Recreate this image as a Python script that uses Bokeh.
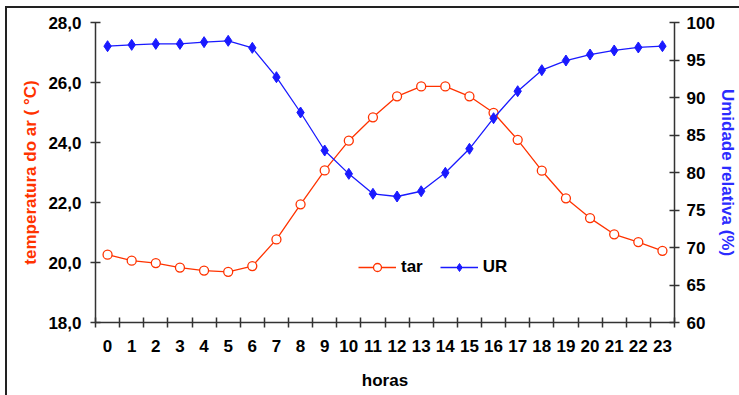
from bokeh.plotting import figure
from bokeh.models import Range1d, LinearAxis, FixedTicker, Legend, LegendItem
from bokeh.embed import file_html
from bokeh.resources import INLINE

hours = list(range(24))
tar = [20.26, 20.06, 19.98, 19.83, 19.73, 19.69, 19.88, 20.77, 21.94, 23.07,
       24.06, 24.84, 25.54, 25.87, 25.87, 25.54, 24.99, 24.09, 23.06, 22.14,
       21.48, 20.94, 20.68, 20.39]
ur = [96.84, 97.02, 97.15, 97.15, 97.38, 97.56, 96.62, 92.71, 88.0, 82.93,
      79.82, 77.16, 76.8, 77.5, 79.96, 83.16, 87.24, 90.84, 93.64, 94.93,
      95.73, 96.27, 96.67, 96.84]
temp_ticks = [18, 20, 22, 24, 26, 28]
temp_labels = ["18,0", "20,0", "22,0", "24,0", "26,0", "28,0"]
ur_ticks = [60, 65, 70, 75, 80, 85, 90, 95, 100]

RED = "#FF3300"
BLUE = "#1A1AFF"
FONT = "Liberation Sans"
FS = "17px"

p = figure(width=739, height=395, output_backend="svg", toolbar_location=None,
           x_range=Range1d(-0.5, 23.5), y_range=Range1d(18, 28),
           min_border_left=95, min_border_right=57, min_border_top=22,
           min_border_bottom=73, x_axis_location=None, y_axis_location=None)
p.background_fill_color = None
p.border_fill_color = None
p.outline_line_color = None
p.grid.visible = False
p.extra_y_ranges = {"ur": Range1d(60, 100)}
p.styles = {
    "background-color": "white",
    "background-image": "linear-gradient(#222, #222), linear-gradient(#222, #222)",
    "background-position": "5px 6px, 5px 6px",
    "background-size": "2px 100%, 100% 2px",
    "background-repeat": "no-repeat",
}

def style_axis(ax):
    ax.axis_line_color = "#333333"
    ax.axis_line_width = 1.5
    ax.major_tick_line_color = "#333333"
    ax.major_tick_line_width = 1.5
    ax.major_tick_in = 5
    ax.major_tick_out = 5
    ax.minor_tick_line_color = None
    ax.major_label_text_font = FONT
    ax.major_label_text_font_style = "bold"
    ax.major_label_text_font_size = FS
    ax.major_label_text_color = "black"
    ax.axis_label_text_font = FONT
    ax.axis_label_text_font_style = "bold"
    ax.axis_label_text_font_size = FS
    ax.axis_label_text_color = "black"

# left axis
yl = LinearAxis(ticker=FixedTicker(ticks=temp_ticks),
                major_label_overrides={t: l for t, l in zip(temp_ticks, temp_labels)},
                axis_label="temperatura do ar ( °C)")
style_axis(yl)
yl.axis_label_text_color = RED
yl.major_label_standoff = 9
yl.axis_label_standoff = 5
p.add_layout(yl, "left")

# right axis
yr = LinearAxis(y_range_name="ur", ticker=FixedTicker(ticks=ur_ticks),
                axis_label="Umidade relativa (%)")
style_axis(yr)
yr.axis_label_text_color = "#2B2BFF"
yr.major_label_standoff = 7
yr.axis_label_standoff = 0
p.add_layout(yr, "right")

# bottom axis: labels at the hours, tick marks at the hour boundaries
bounds = [h - 0.5 for h in hours] + [hours[-1] + 0.5]
xl = LinearAxis(ticker=FixedTicker(ticks=hours, minor_ticks=bounds), axis_label="horas")
style_axis(xl)
xl.major_tick_line_color = None
xl.major_tick_in = 0
xl.major_tick_out = 0
xl.minor_tick_line_color = "#333333"
xl.minor_tick_line_width = 1.5
xl.minor_tick_in = 5
xl.minor_tick_out = 5
xl.major_label_standoff = 12
xl.axis_label_standoff = 16
p.add_layout(xl, "below")

r1l = p.line(hours, tar, line_color=RED, line_width=1.3)
r1m = p.scatter(hours, tar, marker="circle", size=9, line_color=RED,
                fill_color="white", line_width=1.3)
r2l = p.line(hours, ur, line_color=BLUE, line_width=1.3, y_range_name="ur")
r2m = p.scatter(hours, ur, marker="diamond", size=11, line_color=BLUE,
                fill_color=BLUE, y_range_name="ur")

legend = Legend(items=[LegendItem(label="tar", renderers=[r1l, r1m]),
                       LegendItem(label="UR", renderers=[r2l, r2m])],
                orientation="horizontal", location=(263, 45),
                border_line_color=None, background_fill_alpha=0,
                label_text_font=FONT, label_text_font_style="bold",
                label_text_font_size=FS, label_text_color="black",
                glyph_width=38, glyph_height=20,
                label_standoff=5, spacing=17, padding=2, margin=0)
p.add_layout(legend, "center")

open("out.html", "w").write(file_html(p, INLINE))
